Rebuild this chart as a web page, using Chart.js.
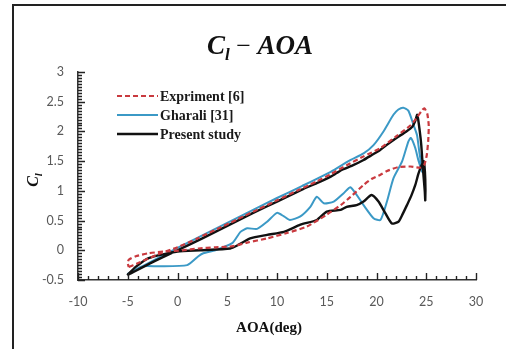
<!doctype html>
<html lang="en">
<head>
<meta charset="utf-8">
<title>Cl - AOA</title>
<script src="https://cdn.jsdelivr.net/npm/chart.js@4.4.1/dist/chart.umd.min.js"></script>
<style>
    html, body { margin: 0; padding: 0; background: #fff; }
    #chartContainer { position: relative; width: 506px; height: 349px; }
</style>
</head>
<body>
<div id="chartContainer"><canvas id="myChart"></canvas></div>
<script>
// Experimental loop (upstroke, stall corner, downstroke, back to start)
const expAoa = [-4.9, -4, -2, 0, 2, 4, 6, 8, 10, 12, 14, 15.4, 17, 18.7, 20.4, 22, 23.4, 24.1, 24.5, 24.8,
    25.1, 25.25, 25.2, 25.05, 24.8, 24.4, 23.4, 22.2, 21, 20.4, 19.5, 18.7, 17.4, 16.4, 15, 13, 11, 9, 7,
    5.6, 3.8, 2.1, 0.5, -1.2, -2.9, -4.2, -4.9, -5, -4.9];
const expCl = [-0.28, -0.22, -0.07, 0.05, 0.2, 0.36, 0.52, 0.68, 0.84, 1.0, 1.16, 1.28, 1.43, 1.58, 1.72, 1.92, 2.1, 2.24, 2.34, 2.39,
    2.3, 2.1, 1.85, 1.6, 1.44, 1.39, 1.41, 1.4, 1.33, 1.27, 1.2, 1.1, 0.9, 0.76, 0.6, 0.4, 0.29, 0.2, 0.13,
    0.07, 0.05, 0.03, 0.0, -0.02, -0.05, -0.1, -0.16, -0.22, -0.28];

// Gharali [31]
const gharaliAoa = [-5.05, -2.5, 0, 2.5, 5, 7.5, 10, 12.5, 15.4, 17.4, 18.7, 19.7, 20.7, 21.7, 22.2, 22.7, 23.2,
    23.7, 24.07, 24.3, 24.6, 24.2, 23.9, 23.46, 23.2, 22.56, 21.7, 21.05, 20.4, 19.7, 18.7, 17.4, 16.7, 15.7,
    14.7, 14.0, 13.35, 12.35, 11.3, 10.7, 10, 9, 8, 7, 6.33, 5.5, 3.8, 2.6, 2.1, 0.97, -1.9, -3.5, -5.05];
const gharaliCl = [-0.40, -0.18, 0.04, 0.25, 0.46, 0.67, 0.88, 1.08, 1.32, 1.52, 1.63, 1.77, 2.0, 2.28, 2.37, 2.40, 2.35,
    2.12, 1.94, 1.66, 1.32, 1.52, 1.72, 1.89, 1.83, 1.49, 1.21, 0.82, 0.51, 0.54, 0.76, 1.06, 0.96, 0.82,
    0.79, 0.90, 0.73, 0.57, 0.51, 0.57, 0.63, 0.48, 0.36, 0.37, 0.31, 0.12, 0.0, -0.05, -0.1, -0.25, -0.27, -0.27, -0.40];

// Present study
const presentAoa = [-5.05, -2.5, 0, 2.5, 5, 7.5, 10, 12.5, 14, 15.4, 16, 16.6, 17.5, 18.7, 19.5, 20.3, 21, 22, 23,
    23.6, 23.9, 24.1, 24.35, 24.5, 24.7, 24.85, 24.9, 24.9, 24.75, 24.5, 24.2, 23.9, 23.5, 23.06, 22.6, 22.2,
    21.55, 20.9, 20.2, 19.5, 18.7, 18, 17, 16.4, 15, 14, 12.35, 10.7, 9, 7.3, 6, 5.3, 2.3, 0, -2.9, -4.2, -5.05];
const presentCl = [-0.42, -0.2, 0.0, 0.2, 0.41, 0.62, 0.82, 1.02, 1.13, 1.24, 1.3, 1.36, 1.42, 1.52, 1.6, 1.68, 1.77, 1.89, 2.0,
    2.08, 2.18, 2.28, 2.0, 1.77, 1.3, 1.0, 0.84, 1.2, 1.5, 1.42, 1.28, 1.10, 0.92, 0.76, 0.6, 0.48,
    0.45, 0.62, 0.82, 0.93, 0.82, 0.76, 0.73, 0.68, 0.65, 0.51, 0.43, 0.31, 0.26, 0.2, 0.08, 0.03, 0.0, -0.02, -0.13, -0.28, -0.42];

const seriesNames = ['Expriment [6]', 'Gharali [31]', 'Present study'];
const xTicks = [-10, -5, 0, 5, 10, 15, 20, 25, 30];
const yTicks = [-0.5, 0, 0.5, 1, 1.5, 2, 2.5, 3];

const toPoints = (xs, ys) => xs.map((x, i) => ({ x: x, y: ys[i] }));

// outer frame (top + left edge)
const framePlugin = {
    id: 'frame',
    beforeDraw(chart) {
        const ctx = chart.ctx;
        ctx.save();
        ctx.fillStyle = '#fff';
        ctx.fillRect(0, 0, chart.width, chart.height);
        ctx.strokeStyle = '#222';
        ctx.lineWidth = 2;
        ctx.beginPath();
        ctx.moveTo(13, chart.height);
        ctx.lineTo(13, 5);
        ctx.lineTo(chart.width, 5);
        ctx.stroke();
        ctx.restore();
    }
};

// inward major/minor tick marks on both axes
const tickMarks = {
    id: 'tickMarks',
    afterDatasetsDraw(chart) {
        const ctx = chart.ctx;
        const xs = chart.scales.x, ys = chart.scales.y;
        const area = chart.chartArea;
        ctx.save();
        ctx.strokeStyle = '#222';
        ctx.lineWidth = 1.4;
        ctx.beginPath();
        for (let i = 0; i <= 40; i++) {
            const px = Math.round(xs.getPixelForValue(-10 + i)) + 0.5;
            const len = i % 5 === 0 ? 7 : 4;
            ctx.moveTo(px, area.bottom);
            ctx.lineTo(px, area.bottom - len);
        }
        for (let k = 0; k <= 70; k++) {
            const py = Math.round(ys.getPixelForValue(-0.5 + k * 0.05)) + 0.5;
            const len = k % 10 === 0 ? 7 : 4;
            ctx.moveTo(area.left, py);
            ctx.lineTo(area.left + len, py);
        }
        ctx.stroke();
        ctx.restore();
    }
};

// draws a run of text pieces centred on cx (used for Cl with subscript l)
const drawPieces = (ctx, pieces, cx, baseY) => {
    let total = 0;
    pieces.forEach(p => { ctx.font = p.f; p.w = ctx.measureText(p.t).width; total += p.w; });
    let x = cx - total / 2;
    pieces.forEach(p => {
        ctx.font = p.f;
        ctx.fillText(p.t, x, baseY + (p.dy || 0));
        x += p.w;
    });
};

const textPlugin = {
    id: 'texts',
    afterDraw(chart) {
        const ctx = chart.ctx;
        ctx.save();
        ctx.fillStyle = '#111';
        ctx.textBaseline = 'alphabetic';
        ctx.textAlign = 'left';

        // chart title
        drawPieces(ctx, [
            { t: 'C', f: 'italic bold 27px "Liberation Serif"' },
            { t: 'l', f: 'italic bold 17px "Liberation Serif"', dy: 6 },
            { t: ' \u2212 ', f: '26px "Liberation Serif"' },
            { t: 'AOA', f: 'italic bold 27px "Liberation Serif"' }
        ], 260, 54);

        // y axis title
        ctx.save();
        ctx.translate(38, 180);
        ctx.rotate(-Math.PI / 2);
        drawPieces(ctx, [
            { t: 'C', f: 'italic bold 16px "Liberation Serif"' },
            { t: 'l', f: 'italic bold 11px "Liberation Serif"', dy: 4 }
        ], 0, 0);
        ctx.restore();

        // x axis title
        ctx.font = 'bold 15px "Liberation Serif"';
        ctx.textAlign = 'center';
        ctx.textBaseline = 'middle';
        ctx.fillText('AOA(deg)', 269, 328);

        // legend
        const rows = [96, 115, 134];
        chart.data.datasets.forEach((ds, i) => {
            const y = rows[i];
            ctx.save();
            ctx.strokeStyle = ds.borderColor;
            ctx.lineWidth = ds.borderWidth;
            ctx.setLineDash(ds.borderDash || []);
            ctx.beginPath();
            ctx.moveTo(117, y);
            ctx.lineTo(158, y);
            ctx.stroke();
            ctx.restore();
            ctx.font = 'bold 14px "Liberation Serif"';
            ctx.textAlign = 'left';
            ctx.textBaseline = 'middle';
            ctx.fillStyle = '#1a1a1a';
            ctx.fillText(ds.label, 160, y + 1);
        });
        ctx.restore();
    }
};

const makeChart = () => {
    const ctx = document.getElementById('myChart');
    new Chart(ctx, {
        type: 'scatter',
        data: {
            datasets: [{
                label: seriesNames[0],
                data: toPoints(expAoa, expCl),
                borderColor: '#c93a3f',
                borderWidth: 2.2,
                borderDash: [5, 3],
                order: 0
            }, {
                label: seriesNames[1],
                data: toPoints(gharaliAoa, gharaliCl),
                borderColor: '#3b99c6',
                borderWidth: 2,
                order: 2
            }, {
                label: seriesNames[2],
                data: toPoints(presentAoa, presentCl),
                borderColor: '#111111',
                borderWidth: 2.4,
                order: 1
            }]
        },
        options: {
            responsive: true,
            maintainAspectRatio: false,
            animation: false,
            devicePixelRatio: 1,
            datasets: {
                scatter: { showLine: true, pointRadius: 0, tension: 0.2, fill: false }
            },
            layout: { padding: { top: 72, right: 30, left: 0, bottom: 0 } },
            plugins: {
                legend: { display: false },
                tooltip: { enabled: false }
            },
            scales: {
                x: {
                    type: 'linear',
                    min: -10,
                    max: 30,
                    afterBuildTicks: (s) => { s.ticks = xTicks.map(v => ({ value: v })); },
                    afterFit: (s) => { s.height = 69; },
                    grid: { display: false, drawTicks: false },
                    border: { display: true, color: '#333', width: 1.5 },
                    ticks: {
                        padding: 14,
                        color: '#595959',
                        font: { family: 'Lato', size: 12.5 },
                        maxRotation: 0,
                        callback: (v) => String(v)
                    }
                },
                y: {
                    type: 'linear',
                    min: -0.5,
                    max: 3,
                    afterBuildTicks: (s) => { s.ticks = yTicks.map(v => ({ value: v })); },
                    afterFit: (s) => { s.width = 78; },
                    grid: { display: false, drawTicks: false },
                    border: { display: true, color: '#333', width: 1.5 },
                    ticks: {
                        padding: 14,
                        color: '#595959',
                        font: { family: 'Lato', size: 12.5 },
                        callback: (v) => String(v)
                    }
                }
            }
        },
        plugins: [framePlugin, tickMarks, textPlugin]
    });
};

window.onload = makeChart;
</script>
</body>
</html>
